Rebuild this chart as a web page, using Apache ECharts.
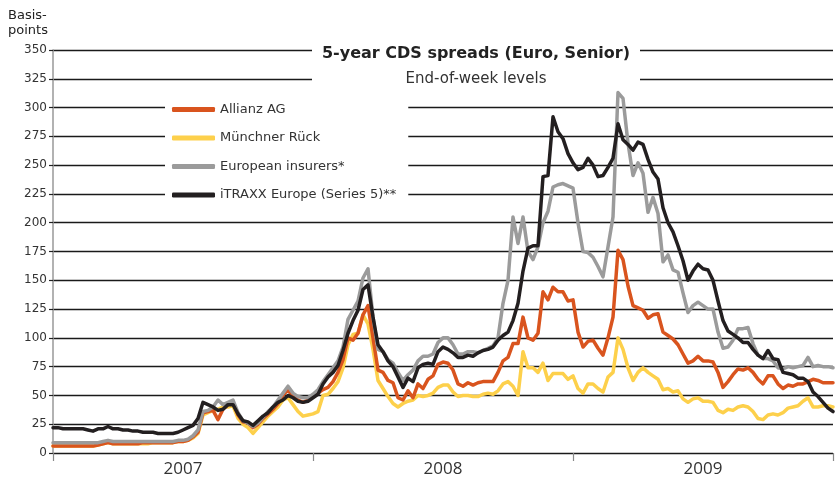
<!DOCTYPE html>
<html>
<head>
<meta charset="utf-8">
<script src="https://cdn.jsdelivr.net/npm/echarts@6/dist/echarts.min.js"></script>
<style>
  html, body { margin: 0; padding: 0; background: #fff; }
  #chart { width: 835px; height: 481px; }
</style>
</head>
<body>
<div id="chart"></div>
<script>
// year bands on the bottom axis
const years = ['2007', '2008', '2009'];

// end-of-week levels in basis points, first week of 2007 to last week of 2009
const allianz = [
  6,6,6,6,6,6,6,6,6,7,
  8,9,8,8,8,8,8,8,9,9,
  9,9,9,9,9,10,10,11,14,18,
  35,36,37,29,38,42,44,33,27,26,
  22,25,30,34,38,43,50,55,49,46,
  44,46,50,52,55,57,62,70,81,100,
  98,104,120,128,100,72,70,63,61,48,
  46,54,48,60,56,64,67,77,79,78,
  72,60,58,61,59,61,62,62,62,70,
  80,83,95,95,118,100,98,104,140,133,
  144,140,140,132,133,105,92,97,98,91,
  85,100,118,176,168,145,128,126,124,117,
  120,121,105,102,99,94,86,78,80,84,
  80,80,79,70,57,62,68,73,72,74,
  70,64,60,67,67,60,56,59,58,60,
  60,62,64,63,61,61,61
];
const muenchnerRueck = [
  6,6,6,6,6,6,6,6,6,7,
  8,9,8,8,8,8,8,8,8,8,
  9,9,9,9,9,10,10,11,13,17,
  33,35,37,38,40,40,41,30,25,22,
  17,22,27,32,36,40,46,48,42,36,
  32,33,34,36,50,51,56,62,74,94,
  103,104,120,112,90,63,56,49,43,40,
  43,45,46,50,49,50,52,57,59,59,
  53,49,50,50,49,49,51,52,51,54,
  60,62,58,50,88,74,74,70,78,63,
  69,69,69,64,67,56,52,60,60,56,
  53,66,70,100,90,74,63,70,74,70,
  67,64,55,56,53,54,47,44,47,48,
  45,45,44,37,35,38,37,40,41,40,
  36,30,29,33,34,33,35,39,40,41,
  45,48,40,40,41,41,40
];
const europeanInsurers = [
  9,9,9,9,9,9,9,9,9,9,
  10,11,10,10,10,10,10,10,10,10,
  10,10,10,10,10,11,11,12,15,20,
  36,37,40,46,42,44,46,35,28,26,
  23,26,31,36,40,46,52,58,52,49,
  48,48,51,55,62,68,74,80,92,116,
  124,132,152,160,118,90,88,81,78,70,
  63,68,72,80,84,84,86,96,100,100,
  94,86,86,88,88,87,89,91,93,100,
  130,150,205,182,205,175,168,179,200,210,
  231,233,234,232,230,200,175,174,170,162,
  153,179,205,313,308,269,241,252,243,209,
  222,208,166,172,159,157,139,122,128,131,
  128,125,125,105,91,92,98,108,108,109,
  95,85,82,82,80,74,73,75,74,75,
  76,83,75,76,75,75,74
];
const itraxx = [
  22,22,21,21,21,21,21,20,19,21,
  21,23,21,21,20,20,19,19,18,18,
  18,17,17,17,17,18,20,22,24,30,
  44,42,40,37,38,42,42,34,28,27,
  24,28,32,35,40,44,46,50,48,45,
  44,45,48,51,60,66,70,76,89,104,
  115,124,142,146,118,94,88,80,75,66,
  57,65,62,74,77,78,77,88,92,90,
  87,83,83,85,84,87,89,90,92,98,
  102,105,115,130,158,178,180,180,240,241,
  292,279,273,260,252,246,248,256,250,240,
  241,248,256,286,272,268,263,270,268,255,
  244,238,213,200,192,180,167,150,158,164,
  160,159,150,132,115,106,103,100,96,96,
  90,85,82,89,82,81,70,69,68,65,
  65,62,53,49,44,39,36
];

// week-ending dates for the category axis
const weeks = [];
for (let i = 0; i < allianz.length; i++) {
  const d = new Date(Date.UTC(2007, 0, 5 + 7 * i));
  weeks.push(d.toISOString().slice(0, 10));
}

const chart = echarts.init(document.getElementById('chart'));

function line(name, data, color) {
  return {
    name: name,
    type: 'line',
    xAxisIndex: 0,
    data: data,
    symbol: 'none',
    lineStyle: { width: 3.5, color: color, cap: 'round', join: 'round' },
    itemStyle: { color: color },
    animation: false
  };
}

chart.setOption({
  animation: false,
  textStyle: { fontFamily: 'DejaVu Sans' },
  grid: { left: 53, right: 2, top: 50, bottom: 28, containLabel: false },
  title: {
    text: '5-year CDS spreads (Euro, Senior)',
    subtext: 'End-of-week levels',
    left: 476,
    textAlign: 'center',
    top: 46,
    itemGap: 10,
    padding: 0,
    textStyle: { fontSize: 16, fontWeight: 'bold', color: '#222', fontFamily: 'DejaVu Sans' },
    subtextStyle: { fontSize: 15, color: '#333', fontFamily: 'DejaVu Sans' }
  },
  graphic: [
    {
      type: 'rect', left: 312, top: 40, z: 1,
      shape: { width: 328, height: 50 },
      style: { fill: '#fff' }
    },
    {
      type: 'text', left: 8, top: 8,
      style: { text: 'Basis-\npoints', fontSize: 13, lineHeight: 15, fill: '#222', fontFamily: 'DejaVu Sans' }
    }
  ],
  legend: {
    data: ['Allianz AG', 'Münchner Rück', 'European insurers*', 'iTRAXX Europe (Series 5)**'],
    orient: 'vertical',
    left: 165,
    top: 97,
    itemGap: 15.5,
    itemWidth: 43,
    itemHeight: 5,
    icon: 'roundRect',
    padding: [6, 12, 6, 7],
    backgroundColor: '#fff',
    textStyle: { fontSize: 13, color: '#333', fontFamily: 'DejaVu Sans' }
  },
  xAxis: [
    {
      type: 'category',
      data: weeks,
      boundaryGap: false,
      show: false
    },
    {
      type: 'category',
      data: years,
      position: 'bottom',
      boundaryGap: true,
      axisLine: { show: false },
      axisTick: { show: true, length: 8, lineStyle: { color: '#888', width: 1.2 } },
      axisLabel: { fontSize: 17, color: '#333', margin: 8, fontFamily: 'Open Sans' },
      splitLine: { show: false }
    }
  ],
  yAxis: {
    type: 'value',
    min: 0,
    max: 350,
    interval: 25,
    axisLine: { show: true, lineStyle: { color: '#999', width: 1.5 } },
    axisTick: { show: true, length: 4, lineStyle: { color: '#222', width: 1.2 } },
    axisLabel: { fontSize: 12, color: '#333', margin: 6 },
    splitLine: { show: true, lineStyle: { color: '#1a1a1a', width: 1.3 } }
  },
  series: [
    line('Münchner Rück', muenchnerRueck, '#fdd04b'),
    line('Allianz AG', allianz, '#d9541e'),
    line('European insurers*', europeanInsurers, '#9b9b9b'),
    line('iTRAXX Europe (Series 5)**', itraxx, '#231f20')
  ]
});
</script>
</body>
</html>
